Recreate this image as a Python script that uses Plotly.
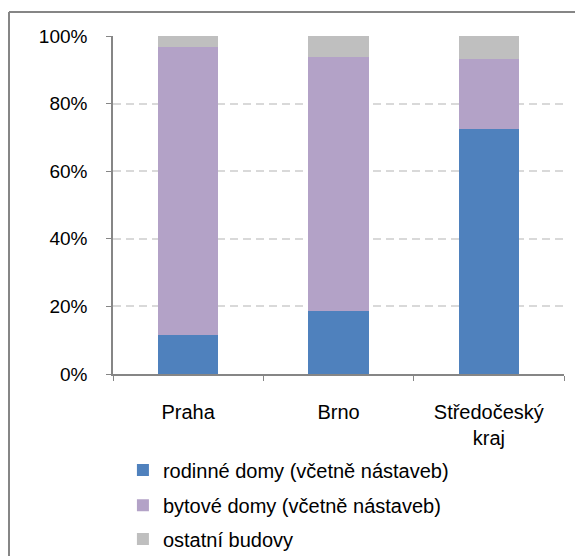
import plotly.graph_objects as go

# categories and shares (%)
regions = ["Praha", "Brno", "Středočeský<br>kraj"]
rodinne = [11.5, 18.7, 72.6]
bytove = [85.2, 75.1, 20.6]
ostatni = [3.3, 6.2, 6.8]

series = [
    ("rodinné domy (včetně nástaveb)", rodinne, "#4F81BD", "legend", -0.284),
    ("bytové domy (včetně nástaveb)", bytove, "#B3A2C7", "legend2", -0.388),
    ("ostatní budovy", ostatni, "#BFBFBF", "legend3", -0.488),
]

fam = "Liberation Sans, Arial, sans-serif"
fnt = dict(family=fam, size=20, color="#000000")
yfnt = dict(family=fam, size=19, color="#000000")

fig = go.Figure()
for name, vals, col, leg, _ in series:
    fig.add_trace(go.Bar(x=regions, y=vals, name=name, marker_color=col,
                         marker_line_width=0, legend=leg))

legends = {}
for name, vals, col, leg, ypos in series:
    legends[leg] = dict(x=0.022, y=ypos, xanchor="left", yanchor="middle",
                        font=fnt, bgcolor="rgba(0,0,0,0)", borderwidth=0)

# page body has an 8px margin, so the figure is offset by that
fig.update_layout(
    width=583, height=556,
    margin=dict(l=105, r=27, t=28, b=190, autoexpand=False),
    barmode="stack", bargap=0.6,
    plot_bgcolor="white", paper_bgcolor="white",
    font=fnt,
    showlegend=True,
    **legends,
)

fig.update_yaxes(range=[0, 100], dtick=20, ticksuffix="%",
                 showline=True, linecolor="#868686", linewidth=1.5,
                 ticks="outside", ticklen=5, tickcolor="#868686",
                 showgrid=True, gridcolor="#D9D9D9", gridwidth=1.5,
                 griddash="8px,5px", zeroline=False,
                 ticklabelstandoff=15, tickfont=yfnt)
fig.update_xaxes(showline=True, linecolor="#868686", linewidth=1.5,
                 ticks="outside", ticklen=5, tickcolor="#868686",
                 tickson="boundaries", showgrid=False,
                 ticklabelstandoff=19, tickfont=fnt)

# outer chart frame (top and left edges visible)
fig.add_shape(type="line", xref="paper", yref="paper",
              x0=-0.2306, x1=1.2, y0=1.071, y1=1.071,
              line=dict(color="#868686", width=2))
fig.add_shape(type="line", xref="paper", yref="paper",
              x0=-0.2306, x1=-0.2306, y0=1.071, y1=-0.7,
              line=dict(color="#868686", width=2))

fig.write_html("out.html")
